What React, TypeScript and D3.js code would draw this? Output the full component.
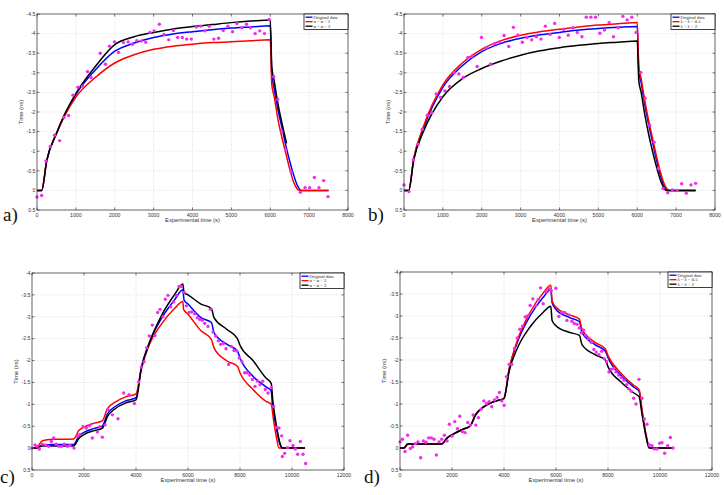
import React from "react";
import * as d3 from "d3";

type Pt = [number, number];

// ---------- panel a ----------
const aOriginal: Pt[] = [[0,0],[120,0],[250,-0.76],[500,-1.45],[700,-1.9],[1000,-2.45],[1500,-3.07],[2000,-3.55],[2500,-3.76],[3000,-3.9],[3500,-3.99],[4000,-4.05],[4500,-4.1],[5000,-4.14],[5500,-4.17],[6000,-4.2],[6040,-2.95],[6100,-2.6],[6200,-2.05],[6300,-1.6],[6400,-1.15],[6500,-0.75],[6600,-0.4],[6700,-0.12],[6800,0],[7500,0]];
const aRed: Pt[] = [[0,0],[120,0],[250,-0.76],[500,-1.45],[700,-1.88],[1000,-2.38],[1500,-2.88],[2000,-3.25],[2500,-3.46],[3000,-3.6],[3500,-3.68],[4000,-3.73],[4500,-3.77],[5000,-3.79],[5500,-3.82],[6000,-3.84],[6040,-2.7],[6100,-2.4],[6200,-1.8],[6300,-1.35],[6400,-0.95],[6500,-0.55],[6600,-0.22],[6700,-0.03],[6750,0],[7500,0]];
const aBlack: Pt[] = [[0,0],[120,0],[250,-0.76],[500,-1.45],[700,-1.92],[1000,-2.47],[1500,-3.16],[2000,-3.72],[2500,-3.92],[3000,-4.03],[3500,-4.12],[4000,-4.18],[4500,-4.23],[5000,-4.28],[5500,-4.32],[6000,-4.35],[6040,-3.15],[6100,-2.8],[6200,-2.2],[6300,-1.72],[6420,-1.2]];
const aPoints: Pt[] = [[0,0.17],[120,0.13],[231,-0.75],[342,-1.12],[453,-1.41],[582,-1.27],[693,-1.86],[813,-1.91],[924,-2.43],[1052,-2.63],[1172,-2.66],[1300,-3.03],[1390,-2.88],[1625,-3.5],[1762,-3.22],[1865,-3.68],[1993,-3.79],[2096,-3.52],[2224,-3.77],[2344,-3.79],[2455,-3.73],[2566,-3.82],[2686,-3.81],[2797,-3.78],[2908,-4.03],[3011,-4.07],[3148,-4.24],[3268,-3.98],[3388,-3.84],[3507,-4.08],[3618,-3.9],[3738,-3.9],[3849,-3.86],[3969,-3.86],[4097,-4.17],[4209,-4.19],[4320,-4.07],[4431,-4.19],[4551,-3.86],[4671,-3.88],[4791,-4.08],[4910,-4.19],[5030,-4.05],[5141,-4.26],[5270,-4.15],[5389,-4.24],[5492,-4.15],[5612,-4.0],[5731,-4.07],[5851,-4.0],[5971,-4.36],[6091,-2.9],[6193,-2.32],[6296,-1.5],[6399,-1.03],[6535,-0.48],[6775,0.05],[6895,-0.07],[7014,-0.07],[7134,-0.33],[7254,-0.07],[7374,-0.25],[7485,0.16]];

// ---------- panel b ----------
const bOriginal: Pt[] = [[0,0],[120,0],[250,-0.8],[500,-1.58],[1000,-2.63],[1500,-3.18],[2000,-3.54],[2500,-3.75],[3000,-3.88],[3500,-3.97],[4000,-4.03],[4500,-4.09],[5000,-4.13],[5500,-4.16],[6000,-4.18],[6040,-3.05],[6100,-2.75],[6200,-2.15],[6300,-1.65],[6400,-1.2],[6500,-0.75],[6600,-0.37],[6700,-0.1],[6790,0],[7500,0]];
const bRed: Pt[] = [[0,0],[120,0],[250,-0.82],[500,-1.63],[1000,-2.69],[1500,-3.25],[2000,-3.6],[2500,-3.82],[3000,-3.96],[3500,-4.05],[4000,-4.11],[4500,-4.17],[5000,-4.22],[5500,-4.25],[6000,-4.28],[6040,-3.15],[6100,-2.85],[6200,-2.25],[6300,-1.75],[6400,-1.3],[6500,-0.85],[6600,-0.45],[6700,-0.15],[6840,0],[7500,0]];
const bBlack: Pt[] = [[0,0],[120,0],[250,-0.77],[500,-1.5],[1000,-2.39],[1500,-2.85],[2000,-3.11],[2500,-3.3],[3000,-3.45],[3500,-3.56],[4000,-3.64],[4500,-3.7],[5000,-3.75],[5500,-3.78],[6000,-3.81],[6040,-2.8],[6100,-2.5],[6200,-1.9],[6300,-1.4],[6400,-0.97],[6500,-0.58],[6600,-0.25],[6700,-0.04],[6740,0],[7500,0]];
const bPoints: Pt[] = [[0,-0.14],[128,0.03],[240,-0.78],[359,-1.18],[470,-1.56],[599,-1.92],[710,-1.98],[830,-2.46],[941,-2.37],[1052,-2.54],[1172,-2.65],[1292,-3.0],[1411,-2.97],[1523,-2.88],[1642,-3.39],[1754,-3.43],[1882,-3.16],[1993,-3.9],[2113,-3.64],[2224,-3.22],[2335,-3.75],[2455,-3.79],[2575,-3.95],[2695,-3.67],[2814,-4.16],[2926,-3.96],[3045,-3.78],[3165,-3.9],[3285,-3.84],[3405,-3.92],[3524,-3.86],[3636,-4.19],[3755,-3.98],[3875,-4.26],[3995,-3.9],[4106,-4.11],[4226,-3.96],[4346,-4.15],[4457,-4.03],[4577,-3.92],[4688,-4.42],[4808,-4.42],[4927,-4.42],[5039,-4.01],[5158,-4.09],[5278,-4.28],[5389,-3.92],[5509,-4.15],[5629,-4.44],[5740,-4.35],[5860,-4.42],[5971,-4.03],[6091,-3.01],[6202,-2.35],[6322,-1.67],[6433,-1.23],[6544,-0.56],[6664,-0.05],[6784,0.06],[6903,-0.01],[7023,0],[7143,-0.17],[7263,0.07],[7382,-0.14],[7502,-0.18]];

// ---------- panel c ----------
const cOriginal: Pt[] = [[0,0],[150,0],[400,-0.07],[800,-0.08],[1600,-0.08],[1800,-0.27],[2000,-0.36],[2400,-0.45],[2700,-0.5],[2900,-0.78],[3200,-0.95],[3600,-1.08],[4000,-1.15],[4200,-1.83],[4500,-2.39],[5000,-2.98],[5500,-3.4],[5800,-3.62],[5850,-3.38],[6000,-3.29],[6500,-2.98],[6900,-2.87],[7000,-2.64],[7500,-2.37],[7900,-2.22],[8000,-2.06],[8500,-1.64],[9000,-1.4],[9200,-1.3],[9250,-0.95],[9350,-0.6],[9450,-0.3],[9550,-0.07],[9600,0],[10500,0]];
const cRed: Pt[] = [[0,0],[150,0],[400,-0.17],[800,-0.2],[1600,-0.21],[1800,-0.4],[2000,-0.48],[2400,-0.57],[2700,-0.62],[2900,-0.9],[3200,-1.05],[3600,-1.17],[4000,-1.24],[4200,-1.8],[4500,-2.35],[5000,-2.85],[5500,-3.2],[5800,-3.35],[5830,-3.17],[6000,-3.06],[6500,-2.68],[6900,-2.48],[7000,-2.29],[7500,-1.99],[7900,-1.87],[8000,-1.72],[8500,-1.34],[9000,-1.07],[9200,-1.0],[9300,-0.6],[9400,-0.25],[9500,0],[10500,0]];
const cBlack: Pt[] = [[0,0],[150,0],[400,-0.05],[1600,-0.05],[1800,-0.22],[2000,-0.31],[2400,-0.4],[2700,-0.45],[2900,-0.72],[3200,-0.9],[3600,-1.03],[4000,-1.1],[4200,-1.8],[4500,-2.38],[5000,-3.05],[5500,-3.52],[5800,-3.75],[5850,-3.55],[6000,-3.5],[6500,-3.29],[6900,-3.19],[7000,-2.98],[7500,-2.71],[7900,-2.5],[8000,-2.35],[8500,-2.0],[9000,-1.6],[9200,-1.48],[9260,-1.1],[9350,-0.7],[9450,-0.35],[9550,-0.08],[9650,0],[10500,0]];
const cPoints: Pt[] = [[0,0],[115,-0.07],[192,-0.04],[282,0.02],[397,-0.09],[526,-0.07],[641,-0.04],[744,-0.15],[833,-0.23],[936,-0.09],[1038,-0.04],[1141,-0.04],[1244,-0.09],[1359,-0.04],[1462,-0.06],[1615,0],[1744,-0.27],[1846,-0.31],[1962,-0.49],[2090,-0.46],[2218,-0.51],[2321,-0.23],[2513,-0.37],[2603,-0.49],[2705,-0.25],[2808,-0.53],[2923,-0.88],[3090,-0.76],[3308,-0.67],[3526,-1.26],[3731,-1.22],[3936,-1.02],[4103,-1.51],[4205,-1.85],[4308,-1.97],[4410,-2.29],[4513,-2.56],[4628,-2.81],[4731,-2.57],[4833,-3.1],[4923,-3.17],[5038,-3.0],[5128,-3.4],[5231,-3.49],[5333,-3.23],[5449,-3.34],[5551,-3.49],[5654,-3.69],[5744,-3.69],[5846,-3.56],[5936,-3.25],[6038,-3.1],[6141,-3.11],[6256,-3.07],[6359,-2.98],[6449,-2.94],[6551,-2.92],[6641,-2.85],[6769,-2.78],[6859,-3.17],[6962,-2.65],[7064,-2.56],[7167,-2.45],[7256,-2.37],[7359,-2.39],[7462,-2.27],[7564,-1.91],[7667,-2.32],[7769,-2.23],[7872,-2.22],[7974,-2.06],[8077,-1.97],[8179,-1.72],[8269,-1.72],[8372,-1.67],[8474,-1.57],[8577,-1.41],[8679,-1.53],[8769,-1.45],[8872,-1.53],[8974,-1.34],[9077,-1.26],[9205,-1.38],[9295,-0.95],[9397,-0.47],[9500,-0.46],[9603,-0.28],[9628,0.19],[9718,0.12],[9833,-0.01],[9923,-0.17],[10038,-0.06],[10128,0.02],[10218,0.14],[10321,-0.15],[10423,0.14],[10526,0.35]];

// ---------- panel d ----------
const dOriginal: Pt[] = [[0,0],[150,0],[300,-0.09],[1600,-0.09],[1800,-0.22],[2000,-0.3],[2400,-0.42],[2700,-0.5],[2900,-0.75],[3200,-0.93],[3600,-1.05],[4000,-1.13],[4200,-1.8],[4500,-2.38],[5000,-3.0],[5500,-3.42],[5800,-3.6],[5850,-3.3],[6000,-3.15],[6500,-2.97],[6900,-2.87],[7000,-2.63],[7500,-2.35],[7900,-2.2],[8000,-2.05],[8500,-1.65],[9000,-1.38],[9200,-1.28],[9300,-0.87],[9450,-0.33],[9600,0],[10500,0]];
const dRed: Pt[] = [[0,0],[150,0],[300,-0.09],[1600,-0.09],[1800,-0.22],[2000,-0.3],[2400,-0.42],[2700,-0.5],[2900,-0.75],[3200,-0.93],[3600,-1.05],[4000,-1.13],[4200,-1.8],[4500,-2.42],[5000,-3.08],[5500,-3.52],[5800,-3.7],[5850,-3.35],[6000,-3.2],[6500,-3.03],[6900,-2.93],[7000,-2.7],[7500,-2.4],[7900,-2.25],[8000,-2.1],[8500,-1.7],[9000,-1.42],[9200,-1.32],[9300,-0.9],[9450,-0.35],[9600,0],[10500,0]];
const dBlack: Pt[] = [[0,0],[150,0],[300,-0.09],[1600,-0.09],[1800,-0.22],[2000,-0.3],[2400,-0.42],[2700,-0.5],[2900,-0.75],[3200,-0.93],[3600,-1.05],[4000,-1.13],[4200,-1.75],[4500,-2.25],[5000,-2.75],[5500,-3.08],[5800,-3.22],[5850,-2.9],[6000,-2.78],[6500,-2.63],[6900,-2.56],[7000,-2.35],[7500,-2.12],[7900,-2.0],[8000,-1.85],[8500,-1.5],[9000,-1.25],[9200,-1.16],[9300,-0.8],[9450,-0.3],[9580,0],[10500,0]];
const dPoints: Pt[] = [[0,-0.14],[90,-0.2],[193,0.08],[295,-0.29],[398,0.01],[488,-0.03],[590,-0.1],[693,-0.14],[796,0.22],[899,-0.16],[1001,-0.13],[1104,-0.23],[1207,-0.23],[1309,-0.2],[1399,0.16],[1502,-0.14],[1605,-0.2],[1707,-0.29],[1810,-0.16],[1900,-0.54],[2003,-0.27],[2105,-0.6],[2208,-0.44],[2298,-0.72],[2401,-0.37],[2503,-0.35],[2606,-0.58],[2709,-0.52],[2811,-0.75],[2914,-0.52],[3017,-0.69],[3119,-0.88],[3222,-1.07],[3325,-1.01],[3427,-1.05],[3530,-0.94],[3633,-1.09],[3735,-1.15],[3825,-1.26],[3915,-1.07],[4005,-0.97],[4095,-1.62],[4198,-1.9],[4300,-1.9],[4403,-2.26],[4506,-2.5],[4608,-2.7],[4711,-2.77],[4814,-2.98],[4904,-3.0],[5006,-3.24],[5109,-3.39],[5212,-3.23],[5315,-3.37],[5404,-3.64],[5507,-3.28],[5610,-3.55],[5712,-3.62],[5815,-3.58],[5995,-3.63],[6110,-2.99],[6226,-3.08],[6329,-3.08],[6419,-2.9],[6508,-3.02],[6611,-2.88],[6701,-2.83],[6804,-2.81],[6893,-2.73],[6971,-2.62],[7060,-2.68],[7150,-2.56],[7253,-2.49],[7356,-2.4],[7458,-2.24],[7548,-2.18],[7651,-2.12],[7754,-2.2],[7856,-2.03],[7946,-1.96],[8036,-1.73],[8126,-1.79],[8216,-1.81],[8305,-1.73],[8408,-1.66],[8511,-1.6],[8614,-1.54],[8716,-1.44],[8793,-1.35],[8896,-1.29],[8986,-1.13],[9076,-1.0],[9191,-1.56],[9307,-1.13],[9397,-0.66],[9500,-0.54],[9589,-0.07],[9692,-0.05],[9782,0.02],[9884,0.02],[9987,-0.11],[10077,-0.12],[10180,0.12],[10295,-0.05],[10398,-0.24],[10500,0]];

// axis ticks and legend texts
const xTicks8k = [0, 1000, 2000, 3000, 4000, 5000, 6000, 7000, 8000];
const xTicks12k = [0, 2000, 4000, 6000, 8000, 10000, 12000];
const yTicksAB = [-4.5, -4, -3.5, -3, -2.5, -2, -1.5, -1, -0.5, 0, 0.5];
const yTicksCD = [-4, -3.5, -3, -2.5, -2, -1.5, -1, -0.5, 0, 0.5];
const legendAlpha = ["Original data", "α = α + 2", "α = α − 2"];
const legendLambda = ["Original data", "λ = λ − 0.5", "λ = λ + 2"];
const seriesColors = ["#0000ff", "#ff0000", "#000000"];

type PanelProps = {
  left: number; top: number; right: number; bottom: number;
  xTicks: number[]; yTicks: number[];
  curves: Pt[][]; points: Pt[]; legend: string[];
  tag: string; tagX: number; tagY: number;
};

function Panel(p: PanelProps) {
  const x = d3.scaleLinear()
    .domain([p.xTicks[0], p.xTicks[p.xTicks.length - 1]])
    .range([p.left, p.right]);
  const y = d3.scaleLinear()
    .domain([p.yTicks[0], p.yTicks[p.yTicks.length - 1]])
    .range([p.top, p.bottom]);
  const line = d3.line<Pt>()
    .x(d => x(d[0]))
    .y(d => y(d[1]))
    .curve(d3.curveMonotoneX);
  // draw order: original, red, black on top
  const order = [0, 1, 2];
  const lw = 44, lh = 15.5;
  const lx = p.right - lw, ly = p.top;
  const tickLen = 2.5;
  const tickFont = "Liberation Sans, Arial, sans-serif";
  return (
    <g>
      {/* grid */}
      {p.xTicks.slice(1, -1).map(t => (
        <line key={"gx" + t} x1={x(t)} x2={x(t)} y1={p.top} y2={p.bottom}
          stroke="#c8c8c8" strokeWidth={0.6} strokeDasharray="1,1.6" />
      ))}
      {p.yTicks.slice(1, -1).map(t => (
        <line key={"gy" + t} x1={p.left} x2={p.right} y1={y(t)} y2={y(t)}
          stroke="#c8c8c8" strokeWidth={0.6} strokeDasharray="1,1.6" />
      ))}
      {/* curves */}
      {order.map(i => (
        <path key={"c" + i} d={line(p.curves[i]) || ""} fill="none"
          stroke={seriesColors[i]} strokeWidth={1.5} strokeLinejoin="round" />
      ))}
      {/* measured points */}
      {p.points.map((d, i) => (
        <circle key={"p" + i} cx={x(d[0])} cy={y(d[1])} r={1.7} fill="#f02cf0" />
      ))}
      {/* frame */}
      <rect x={p.left} y={p.top} width={p.right - p.left} height={p.bottom - p.top}
        fill="none" stroke="#222" strokeWidth={0.7} />
      {/* ticks */}
      {p.xTicks.map(t => (
        <g key={"tx" + t}>
          <line x1={x(t)} x2={x(t)} y1={p.bottom} y2={p.bottom - tickLen} stroke="#222" strokeWidth={0.6} />
          <line x1={x(t)} x2={x(t)} y1={p.top} y2={p.top + tickLen} stroke="#222" strokeWidth={0.6} />
          <text x={x(t)} y={p.bottom + 6.5} fontSize={5.2} textAnchor="middle"
            fontFamily={tickFont} fill="#333">{t}</text>
        </g>
      ))}
      {p.yTicks.map(t => (
        <g key={"ty" + t}>
          <line x1={p.left} x2={p.left + tickLen} y1={y(t)} y2={y(t)} stroke="#222" strokeWidth={0.6} />
          <line x1={p.right} x2={p.right - tickLen} y1={y(t)} y2={y(t)} stroke="#222" strokeWidth={0.6} />
          <text x={p.left - 1.5} y={y(t) + 1.8} fontSize={5.2} textAnchor="end"
            fontFamily={tickFont} fill="#333">{t}</text>
        </g>
      ))}
      {/* axis titles */}
      <text x={(p.left + p.right) / 2} y={p.bottom + 11.5} fontSize={5.8} textAnchor="middle"
        fontFamily={tickFont} fill="#333">Experimental time (s)</text>
      <text transform={`translate(${p.left - 14},${(p.top + p.bottom) / 2}) rotate(-90)`}
        fontSize={5.8} textAnchor="middle" fontFamily={tickFont} fill="#333">Time (ns)</text>
      {/* legend */}
      <rect x={lx} y={ly} width={lw} height={lh} fill="#fff" stroke="#111" strokeWidth={0.8} />
      {p.legend.map((s, i) => (
        <g key={"l" + i}>
          <line x1={lx + 1.5} x2={lx + 8.5} y1={ly + 3.2 + i * 4.5} y2={ly + 3.2 + i * 4.5}
            stroke={seriesColors[i]} strokeWidth={1.3} />
          <text x={lx + 9.5} y={ly + 4.8 + i * 4.5} fontSize={4.6}
            fontFamily="Liberation Serif, serif" fill="#222">{s}</text>
        </g>
      ))}
      {/* panel tag */}
      <text x={p.tagX} y={p.tagY} fontSize={19} fontFamily="Liberation Serif, serif" fill="#111">{p.tag}</text>
    </g>
  );
}

export default function App() {
  return (
    <svg width={724} height={495} viewBox="0 0 724 495"
      style={{ position: "absolute", left: 0, top: 0, background: "#fff" }}>
      <rect width={724} height={495} fill="#fff" />
      <Panel left={37} top={14} right={348} bottom={210} xTicks={xTicks8k} yTicks={yTicksAB}
        curves={[aOriginal, aRed, aBlack]} points={aPoints} legend={legendAlpha}
        tag="a)" tagX={3} tagY={221} />
      <Panel left={404} top={14} right={715} bottom={210} xTicks={xTicks8k} yTicks={yTicksAB}
        curves={[bOriginal, bRed, bBlack]} points={bPoints} legend={legendLambda}
        tag="b)" tagX={368} tagY={221} />
      <Panel left={32} top={273} right={344} bottom={470} xTicks={xTicks12k} yTicks={yTicksCD}
        curves={[cOriginal, cRed, cBlack]} points={cPoints} legend={legendAlpha}
        tag="c)" tagX={0} tagY={483} />
      <Panel left={400} top={272} right={712} bottom={470} xTicks={xTicks12k} yTicks={yTicksCD}
        curves={[dOriginal, dRed, dBlack]} points={dPoints} legend={legendLambda}
        tag="d)" tagX={364} tagY={483} />
    </svg>
  );
}
